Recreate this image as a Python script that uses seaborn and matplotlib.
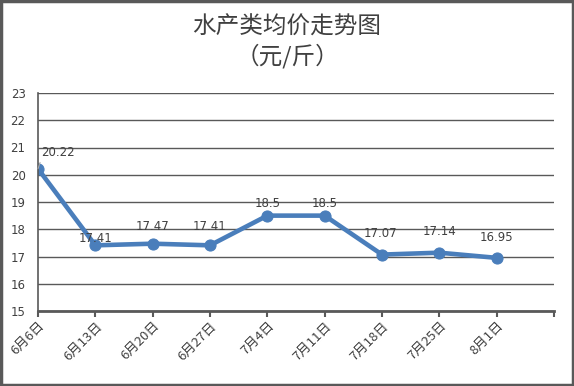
import matplotlib
matplotlib.use("Agg")
import matplotlib.pyplot as plt
import seaborn as sns
import pandas as pd

dates = ["6月6日", "6月13日", "6月20日", "6月27日", "7月4日", "7月11日", "7月18日", "7月25日", "8月1日"]
prices = [20.22, 17.41, 17.47, 17.41, 18.5, 18.5, 17.07, 17.14, 16.95]
label_texts = ["20.22", "17.41", "17.47", "17.41", "18.5", "18.5", "17.07", "17.14", "16.95"]

sns.set_style("white")
plt.rcParams['font.family'] = ['Noto Sans CJK SC', 'DejaVu Sans']

df = pd.DataFrame({"x": range(len(dates)), "price": prices})

fig = plt.figure(figsize=(5.74, 3.86), dpi=100)
ax = fig.add_axes([38/574, 1-311/386, (554-38)/574, (311-93)/386])

line_color = "#4A7EBB"
grid_color = "#595959"
sns.lineplot(data=df, x="x", y="price", ax=ax, color=line_color, linewidth=3.3,
             marker="o", markersize=8, markeredgecolor=line_color, markerfacecolor=line_color)

ax.set_xlim(0, len(dates))
ax.set_ylim(15, 23)
ax.set_yticks(range(15, 24))
ax.set_xticks(range(len(dates) + 1))
ax.set_xticklabels(dates + [""], rotation=45, ha="right", rotation_mode="anchor",
                   fontsize=9.5, color="#404040")
ax.tick_params(axis="x", length=4, width=1.5, color=grid_color, pad=2, direction="out", bottom=True)
ax.tick_params(axis="y", length=0, labelsize=8.5, labelcolor="#404040", pad=9)
for lab in ax.get_yticklabels():
    lab.set_family("DejaVu Sans")
ax.set_xlabel("")
ax.set_ylabel("")
ax.grid(axis="y", color=grid_color, linewidth=1)
ax.set_axisbelow(True)
for s in ["top", "right"]:
    ax.spines[s].set_visible(False)
ax.spines["left"].set_color(grid_color)
ax.spines["left"].set_linewidth(1.2)
ax.spines["bottom"].set_color(grid_color)
ax.spines["bottom"].set_linewidth(2)

offsets_px = [(20, 16), (0, 7), (0, 17), (0, 19), (0, 12), (0, 12), (-2, 21), (0, 21), (0, 20)]
for i, (v, t) in enumerate(zip(prices, label_texts)):
    dx, dy = offsets_px[i]
    if i == 0:
        ax.annotate(t, xy=(i, v), xytext=(dx * 0.72, dy * 0.72), textcoords="offset points",
                    ha="center", va="center", fontsize=8.5, color="#404040", family="DejaVu Sans",
                    arrowprops=dict(arrowstyle="-", color="#A6A6A6", lw=0.8, shrinkA=0, shrinkB=0,
                                    relpos=(0.0, 0.0)))
    else:
        ax.annotate(t, xy=(i, v), xytext=(dx * 0.72, dy * 0.72), textcoords="offset points",
                    ha="center", va="center", fontsize=8.5, color="#404040", family="DejaVu Sans")

fig.text(0.5, 1-27/386, "水产类均价走势图", ha="center", va="center", fontsize=17, color="#404040")
fig.text(0.5, 1-56/386, "（元/斤）", ha="center", va="center", fontsize=17, color="#404040")

border = plt.Rectangle((0.002, 0.003), 0.996, 0.994, transform=fig.transFigure, fill=False,
                       edgecolor="#595959", linewidth=2.5)
fig.patches.append(border)

fig.savefig("out.png", dpi=100)
